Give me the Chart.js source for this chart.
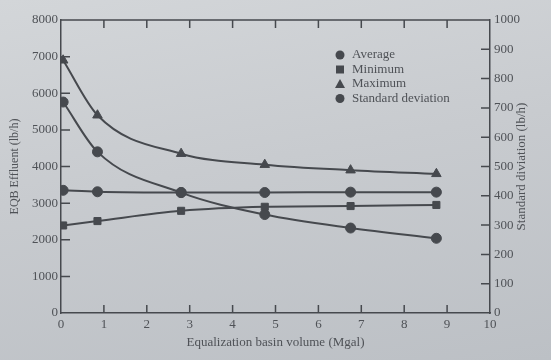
<!DOCTYPE html>
<html>
<head>
<meta charset="utf-8">
<script src="https://cdn.jsdelivr.net/npm/chart.js@4"></script>
<style>
  html, body { margin: 0; padding: 0; }
  body {
    width: 551px; height: 360px; overflow: hidden;
    background: linear-gradient(170deg, #d3d6d9 0%, #c8cbcf 45%, #bcc0c5 100%);
  }
  #wrap { position: relative; width: 551px; height: 360px; }
</style>
</head>
<body>
<div id="wrap"><canvas id="c" width="551" height="360"></canvas></div>
<script>
// ---- data ----
const volumes      = [0.05, 0.85, 2.8, 4.75, 6.75, 8.75];           // Mgal
const averageVals  = [3350, 3310, 3290, 3290, 3300, 3300];          // lb/h
const minimumVals  = [2390, 2510, 2790, 2900, 2920, 2950];          // lb/h
const maximumVals  = [6900, 5400, 4350, 4050, 3900, 3800];          // lb/h
const stdDevVals   = [720, 550, 411, 336, 290, 255];                // lb/h (right axis)
const seriesLabels = ['Average', 'Minimum', 'Maximum', 'Standard deviation'];
const xTitle  = 'Equalization basin volume (Mgal)';
const yTitle  = 'EQB Effluent (lb/h)';
const y2Title = 'Standard diviation (lb/h)';

const INK = '#46494e';
const TXT = '#4f5257';
const FONT = "'Liberation Serif', 'DejaVu Serif', serif";

const toPts = vals => vals.map((v, i) => ({ x: volumes[i], y: v }));

function ds(label, vals, style, axis, radius) {
  return {
    label, data: toPts(vals), yAxisID: axis,
    borderColor: INK, backgroundColor: INK, borderWidth: 2,
    pointStyle: style, pointRadius: radius, pointHoverRadius: radius,
    pointBackgroundColor: INK, pointBorderColor: INK, pointBorderWidth: 1,
    cubicInterpolationMode: 'monotone', fill: false
  };
}

const tickMarks = {
  id: 'tickMarks',
  afterDraw(chart) {
    const { ctx, chartArea: a } = chart;
    const x = chart.scales.x, y = chart.scales.y, y2 = chart.scales.y2;
    ctx.save();
    ctx.strokeStyle = INK; ctx.lineWidth = 1.5;
    // top border
    ctx.beginPath(); ctx.moveTo(a.left, a.top); ctx.lineTo(a.right, a.top); ctx.stroke();
    ctx.beginPath();
    x.ticks.forEach(t => {
      if (t.value <= x.min || t.value >= x.max) return;
      const px = x.getPixelForValue(t.value);
      ctx.moveTo(px, a.bottom); ctx.lineTo(px, a.bottom - 8);
      ctx.moveTo(px, a.top); ctx.lineTo(px, a.top + 8);
    });
    y.ticks.forEach(t => {
      if (t.value <= y.min || t.value >= y.max) return;
      const py = y.getPixelForValue(t.value);
      ctx.moveTo(a.left, py); ctx.lineTo(a.left + 9, py);
    });
    y2.ticks.forEach(t => {
      if (t.value <= y2.min || t.value >= y2.max) return;
      const py = y2.getPixelForValue(t.value);
      ctx.moveTo(a.right, py); ctx.lineTo(a.right - 9, py);
    });
    ctx.stroke();

    // right axis title, reading bottom-to-top
    ctx.save();
    ctx.translate(522, (a.top + a.bottom) / 2);
    ctx.rotate(-Math.PI / 2);
    ctx.font = '13px ' + FONT;
    ctx.fillStyle = TXT;
    ctx.textAlign = 'center';
    ctx.textBaseline = 'middle';
    ctx.fillText(y2Title, 0, 0);
    ctx.restore();

    // legend inside the plot
    const lx = a.left + 279, ly0 = a.top + 35, step = 14.5;
    ctx.font = '13px ' + FONT;
    ctx.textBaseline = 'middle';
    ctx.textAlign = 'left';
    chart.data.datasets.forEach((d, i) => {
      const yy = ly0 + i * step;
      ctx.fillStyle = INK;
      ctx.beginPath();
      if (d.pointStyle === 'rect') {
        ctx.rect(lx - 4, yy - 4, 8, 8);
      } else if (d.pointStyle === 'triangle') {
        ctx.moveTo(lx, yy - 5); ctx.lineTo(lx + 5, yy + 4); ctx.lineTo(lx - 5, yy + 4); ctx.closePath();
      } else {
        ctx.arc(lx, yy, 4.5, 0, Math.PI * 2);
      }
      ctx.fill();
      ctx.fillStyle = TXT;
      ctx.fillText(d.label, lx + 12, yy);
    });
    ctx.restore();
  }
};

const plain = v => String(v);

new Chart(document.getElementById('c'), {
  type: 'line',
  data: {
    datasets: [
      ds(seriesLabels[0], averageVals, 'circle', 'y', 5),
      ds(seriesLabels[1], minimumVals, 'rect', 'y', 5),
      ds(seriesLabels[2], maximumVals, 'triangle', 'y', 5.5),
      ds(seriesLabels[3], stdDevVals, 'circle', 'y2', 5)
    ]
  },
  options: {
    responsive: false,
    animation: false,
    events: [],
    layout: { padding: { top: 20, left: 0, right: 0, bottom: 0 } },
    plugins: { legend: { display: false }, tooltip: { enabled: false } },
    scales: {
      x: {
        type: 'linear', position: 'bottom', min: 0, max: 10,
        ticks: { stepSize: 1, color: TXT, font: { family: FONT, size: 13 }, padding: 4, maxRotation: 0, callback: plain },
        grid: { display: false, drawTicks: false },
        border: { display: true, color: INK, width: 1.5 },
        title: { display: true, text: xTitle, color: TXT, font: { family: FONT, size: 13 }, padding: { top: 0, bottom: 10 } },
        afterFit: s => { s.height = 47; }
      },
      y: {
        position: 'left', min: 0, max: 8000,
        ticks: { stepSize: 1000, color: TXT, font: { family: FONT, size: 13 }, padding: 3, callback: plain },
        grid: { display: false, drawTicks: false },
        border: { display: true, color: INK, width: 1.5 },
        title: { display: true, text: yTitle, color: TXT, font: { family: FONT, size: 12 }, padding: { top: 8, bottom: 0 } },
        afterFit: s => { s.width = 61; }
      },
      y2: {
        position: 'right', min: 0, max: 1000,
        ticks: { stepSize: 100, color: TXT, font: { family: FONT, size: 13 }, padding: 4, callback: plain },
        grid: { display: false, drawTicks: false },
        border: { display: true, color: INK, width: 1.5 },
        title: { display: false },
        afterFit: s => { s.width = 61; }
      }
    }
  },
  plugins: [tickMarks]
});
</script>
</body>
</html>
